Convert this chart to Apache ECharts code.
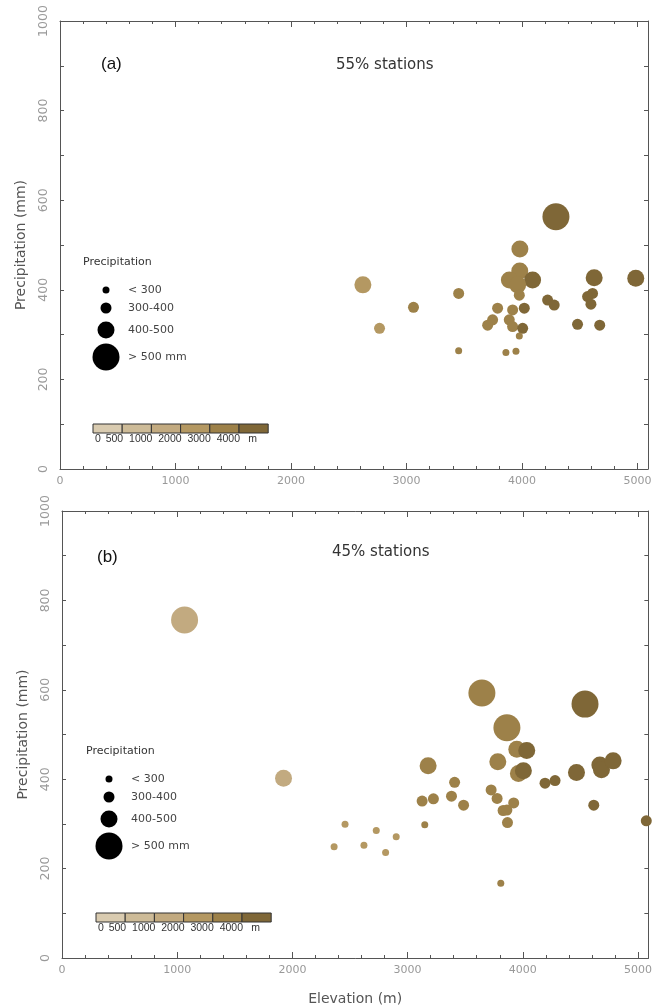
<!DOCTYPE html>
<html>
<head lang="en">
    <meta charset="UTF-8">
    <title></title>
    <style>
        html, body { margin: 0; padding: 0; background: #fff; }
    </style>
</head>
<body>
<div id="main" style="width: 655px;height: 1008px;"></div>
<script src="https://cdn.jsdelivr.net/npm/echarts@6/dist/echarts.min.js"></script>
<script>
    // (a) 55% stations: [elevation m, precipitation mm]
    var stationsA = [
        [2622, 411], [2766, 314], [3060, 361], [3451, 392], [3451, 264],
        [3788, 359], [3745, 333], [3702, 321], [3860, 260], [3947, 263],
        [3981, 491], [3980, 442], [3890, 422], [4091, 422], [3962, 411],
        [3976, 388], [3918, 355], [4019, 359], [3889, 333], [3918, 318],
        [4005, 314], [3976, 297], [4293, 563], [4221, 377], [4278, 366],
        [4480, 323], [4624, 427], [4610, 392], [4567, 385], [4596, 368],
        [4672, 321], [4984, 426]
    ];
    // (b) 45% stations
    var stationsB = [
        [1064, 756], [1923, 402], [2362, 249], [2457, 299], [2621, 252],
        [2728, 285], [2809, 236], [2901, 271], [3126, 351], [3149, 298],
        [3178, 430], [3224, 356], [3381, 362], [3408, 393], [3486, 342],
        [3645, 593], [3725, 376], [3777, 357], [3783, 439], [3829, 330],
        [3862, 331], [3867, 303], [3809, 167], [3862, 515], [3921, 347],
        [3948, 467], [3962, 413], [4005, 419], [4034, 464], [4193, 391],
        [4280, 397], [4466, 415], [4540, 568], [4616, 342], [4669, 432],
        [4683, 421], [4784, 441], [5072, 307]
    ];
    // precipitation classes -> dot size
    var precipBreaks = [300, 400, 500];
    var precipLabels = ['< 300', '300-400', '400-500', '> 500 mm'];
    var precipSizes = [7, 11, 17, 27];
    // elevation classes -> colour
    var elevBreaks = [0, 500, 1000, 2000, 3000, 4000];
    var elevLabels = ['0', '500', '1000', '2000', '3000', '4000'];
    var elevColors = ['#d9cbb0', '#cdbb98', '#c2aa80', '#b49862', '#9d8149', '#7f6737'];

    var chart = echarts.init(document.getElementById('main'));

    function sizeOf(p){
        for(var i=0;i<precipBreaks.length;i++){
            if(p<precipBreaks[i]) return precipSizes[i];
        }
        return precipSizes[precipSizes.length-1];
    }

    var pieces = elevBreaks.map(function(b, i){
        var p = {gte: b, color: elevColors[i]};
        if(i < elevBreaks.length-1) p.lt = elevBreaks[i+1];
        return p;
    });

    var axisColor = '#555';
    var labelColor = '#999';
    var font = 'Liberation Sans';
    var wide = 'DejaVu Sans';
    function plain(v){ return String(v); }

    function xAx(grid, pos, withLabels){
        return {
            type: 'value', gridIndex: grid, position: pos,
            min: 0, max: 5090, interval: 1000,
            name: withLabels && grid == 1 ? 'Elevation (m)' : '',
            nameLocation: 'middle', nameGap: 34,
            nameTextStyle: {color: '#555', fontSize: 14, fontFamily: wide},
            axisLine: {show: true, onZero: false, lineStyle: {color: axisColor, width: 1}},
            axisTick: {show: true, inside: true, length: 6, lineStyle: {color: axisColor}},
            minorTick: {show: true, splitNumber: 5, length: 3, lineStyle: {color: axisColor}},
            axisLabel: {show: withLabels, showMaxLabel: false, formatter: plain, color: labelColor, fontSize: 11, margin: 7, fontFamily: wide},
            splitLine: {show: false}
        };
    }
    function yAx(grid, pos, withLabels){
        return {
            type: 'value', gridIndex: grid, position: pos,
            min: 0, max: 1000, interval: 200,
            name: withLabels ? 'Precipitation (mm)' : '',
            nameLocation: 'middle', nameGap: 32,
            nameTextStyle: {color: '#555', fontSize: 14, fontFamily: wide},
            axisLine: {show: true, onZero: false, lineStyle: {color: axisColor, width: 1}},
            axisTick: {show: true, inside: true, length: 4, lineStyle: {color: axisColor}},
            minorTick: {show: true, splitNumber: 2, length: 4, lineStyle: {color: axisColor}},
            axisLabel: {show: withLabels, rotate: 90, formatter: plain, color: labelColor, fontSize: 12.5, margin: 10, fontFamily: wide},
            splitLine: {show: false}
        };
    }

    // legend drawn as graphic elements, origin = "Precipitation" caption
    function legendGraphics(ox, oy){
        var g = [];
        var cy = [26, 44, 66, 93];
        g.push({type: 'text', left: ox, top: oy - 7,
            style: {text: 'Precipitation', fill: '#333', fontSize: 11, fontFamily: wide}});
        precipLabels.forEach(function(t, i){
            g.push({type: 'circle', shape: {cx: ox + 23, cy: oy + cy[i], r: precipSizes[i] / 2},
                style: {fill: '#000'}});
            g.push({type: 'text', x: ox + 45, y: oy + cy[i],
                style: {text: t, fill: '#444', fontSize: 11, fontFamily: wide, verticalAlign: 'middle'}});
        });
        var bx = ox + 10, by = oy + 160, bw = 29.2, bh = 9;
        elevColors.forEach(function(c, i){
            g.push({type: 'rect', shape: {x: bx + i * bw, y: by, width: bw, height: bh},
                style: {fill: c, stroke: '#333', lineWidth: 1}});
        });
        elevLabels.forEach(function(t, i){
            var x = i == 0 ? bx + 2 : bx + i * bw + 1;
            g.push({type: 'text', x: x, y: by + bh + 1,
                style: {text: t, fill: '#333', fontSize: 10.5, fontFamily: font,
                    align: i == 0 ? 'left' : 'right', verticalAlign: 'top'}});
        });
        g.push({type: 'text', x: bx + 6 * bw - 20, y: by + bh + 1,
            style: {text: 'm', fill: '#333', fontSize: 10.5, fontFamily: font, align: 'left', verticalAlign: 'top'}});
        return g;
    }

    var option = {
        animation: false,
        backgroundColor: '#fff',
        title: [
            {text: '(a)', left: 96, top: 51, textStyle: {fontSize: 17, fontWeight: 'normal', color: '#111', fontFamily: font}},
            {text: '55% stations', left: 331, top: 53, textStyle: {fontSize: 15, fontWeight: 'normal', color: '#333', fontFamily: wide}},
            {text: '(b)', left: 92, top: 544, textStyle: {fontSize: 17, fontWeight: 'normal', color: '#111', fontFamily: font}},
            {text: '45% stations', left: 327, top: 540, textStyle: {fontSize: 15, fontWeight: 'normal', color: '#333', fontFamily: wide}}
        ],
        grid: [
            {left: 60, top: 21, width: 588, height: 448},
            {left: 62, top: 511, width: 589, height: 447}
        ],
        xAxis: [xAx(0, 'bottom', true), xAx(0, 'top', false), xAx(1, 'bottom', true), xAx(1, 'top', false)],
        yAxis: [yAx(0, 'left', true), yAx(0, 'right', false), yAx(1, 'left', true), yAx(1, 'right', false)],
        visualMap: {
            type: 'piecewise', show: false, dimension: 0,
            seriesIndex: [0, 1], pieces: pieces
        },
        series: [
            {
                type: 'scatter', xAxisIndex: 0, yAxisIndex: 0,
                data: stationsA,
                symbolSize: function(v){ return sizeOf(v[1]); },
                itemStyle: {opacity: 1}
            },
            {
                type: 'scatter', xAxisIndex: 2, yAxisIndex: 2,
                data: stationsB,
                symbolSize: function(v){ return sizeOf(v[1]); },
                itemStyle: {opacity: 1}
            }
        ],
        graphic: legendGraphics(83, 264).concat(legendGraphics(86, 753))
    };
    chart.setOption(option);
</script>
</body>
</html>
